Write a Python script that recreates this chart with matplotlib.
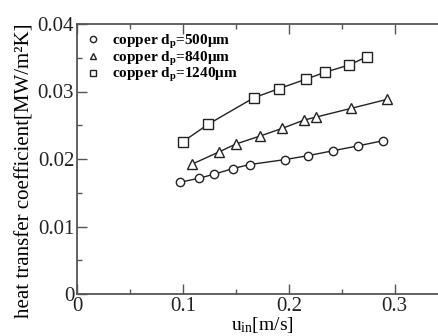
import matplotlib
matplotlib.use("Agg")
import matplotlib.pyplot as plt
from matplotlib.ticker import MultipleLocator
from matplotlib.lines import Line2D

plt.rcParams['font.family'] = ['Liberation Serif', 'DejaVu Serif']
plt.rcParams['mathtext.fontset'] = 'custom'
plt.rcParams['mathtext.rm'] = 'Liberation Serif'
plt.rcParams['mathtext.it'] = 'Liberation Serif'
plt.rcParams['mathtext.bf'] = 'Liberation Serif:bold'

# data
u500 = [0.097, 0.115, 0.129, 0.147, 0.163, 0.196, 0.218, 0.242, 0.265, 0.289]
h500 = [0.01655, 0.01714, 0.01773, 0.01857, 0.01918, 0.01990, 0.02049, 0.02123, 0.02193, 0.02271]
u840 = [0.109, 0.134, 0.150, 0.173, 0.194, 0.214, 0.226, 0.259, 0.293]
h840 = [0.01926, 0.02104, 0.02222, 0.02341, 0.02455, 0.02575, 0.02622, 0.02751, 0.02884]
u1240 = [0.100, 0.124, 0.167, 0.191, 0.216, 0.234, 0.257, 0.274]
h1240 = [0.02256, 0.02516, 0.02907, 0.03044, 0.03181, 0.03284, 0.03393, 0.03516]
labels = ["copper d$_\\mathbf{p}$=500μm", "copper d$_\\mathbf{p}$=840μm", "copper d$_\\mathbf{p}$=1240μm"]

fig = plt.figure(figsize=(4.38, 3.36), dpi=100)
ax = fig.add_axes([77/438, 42/336, 0.35*1059/438, 270/336])

lc = '#222222'
ax.plot(u500, h500, '-', color=lc, lw=1.0, marker='o', ms=6, mfc='white', mec=lc, mew=1.0)
ax.plot(u840, h840, '-', color=lc, lw=1.0, marker='^', ms=7.5, mfc='white', mec=lc, mew=1.0)
ax.plot(u1240, h1240, '-', color=lc, lw=1.0, marker='s', ms=7, mfc='white', mec=lc, mew=1.0)

handles = [Line2D([], [], ls='none', marker=m, ms=s, mfc='white', mec=lc, mew=1.0)
           for m, s in [('o', 4.5), ('^', 5), ('s', 5)]]
leg = ax.legend(handles, labels, loc='upper left', frameon=False,
                prop={'weight': 'bold', 'size': 11}, handlelength=0.6,
                handletextpad=0.9, labelspacing=-0.08, borderaxespad=0.0,
                bbox_to_anchor=(0.015, 0.99))

ax.set_xlim(0, 0.35)
ax.set_ylim(0, 0.04)
ax.xaxis.set_minor_locator(MultipleLocator(0.05))
ax.yaxis.set_minor_locator(MultipleLocator(0.005))
ax.set_xticks([0, 0.1, 0.2, 0.3])
ax.set_xticklabels(['0', '0.1', '0.2', '0.3'])
ax.set_yticks([0, 0.01, 0.02, 0.03, 0.04])
ax.set_yticklabels(['0', '0.01', '0.02', '0.03', '0.04'])

sc = '#555555'
for s in ax.spines.values():
    s.set_color(sc)
    s.set_linewidth(1.3)
ax.spines['right'].set_visible(False)
ax.tick_params(which='both', direction='in', top=True, right=False, colors=sc,
               labelcolor='#222222', width=1.0)
ax.tick_params(which='major', length=7, labelsize=15, pad=2)
ax.tick_params(which='minor', length=3.5)

ax.set_ylabel('heat transfer coefficient[MW/m²K]', fontsize=15)
ax.yaxis.set_label_coords(-(77-25)/(0.35*1059), (294-171)/270)
ax.set_xlabel('u$_\\mathrm{in}$[m/s]', fontsize=14)
ax.xaxis.set_label_coords((262-77)/(0.35*1059), -(325-294)/270)
ax.xaxis.label.set_va('center')
ax.yaxis.label.set_va('center')

fig.savefig('out.png', dpi=100)
